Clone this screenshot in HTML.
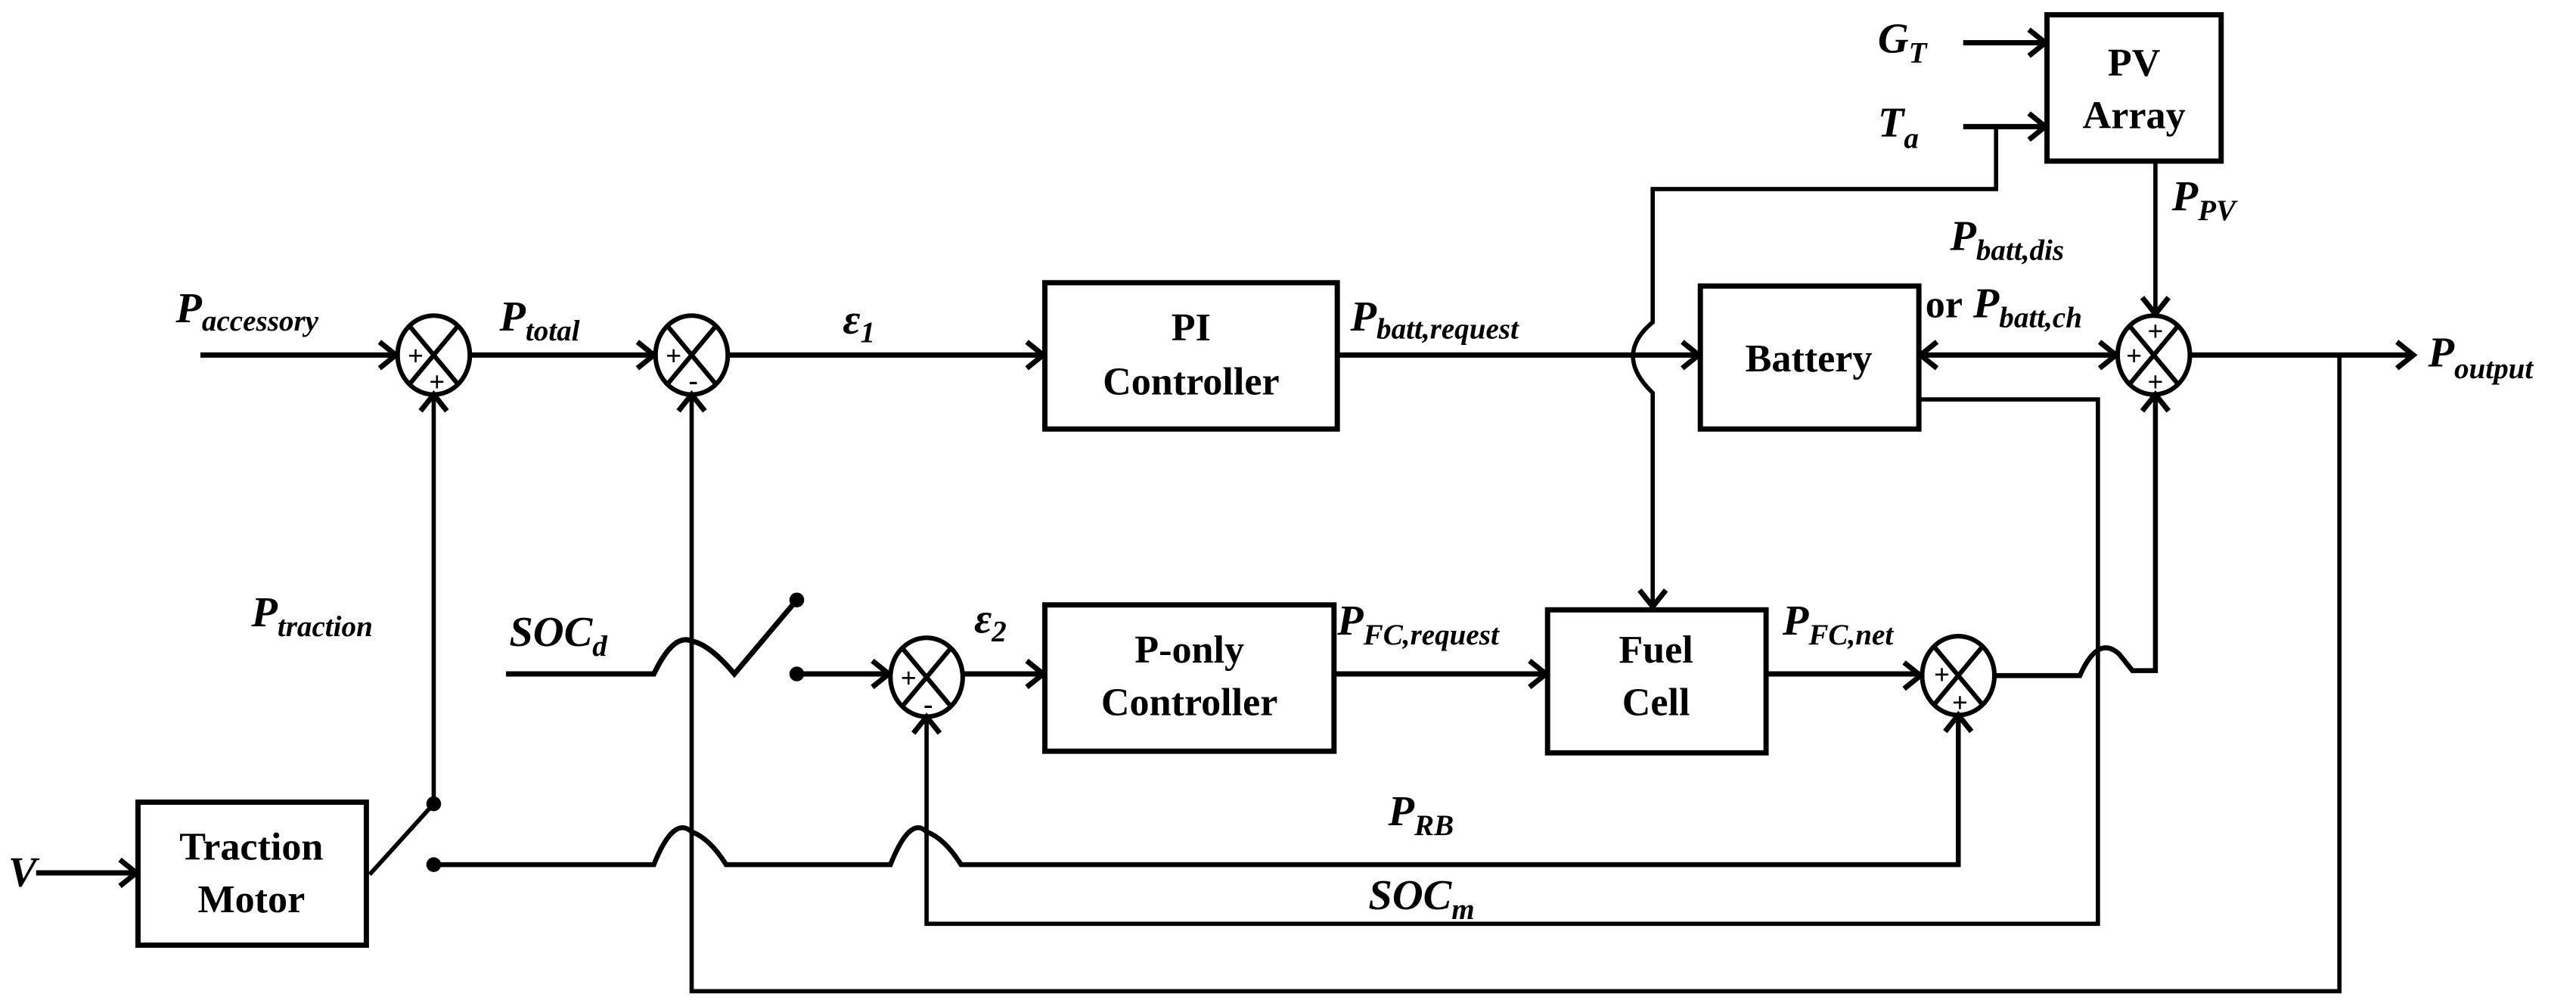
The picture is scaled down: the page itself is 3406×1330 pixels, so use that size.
<!DOCTYPE html>
<html><head><meta charset="utf-8"><style>
html,body{margin:0;padding:0;background:#fff;}
svg{display:block;}
text{font-family:"Liberation Serif",serif;font-weight:bold;fill:#000;}
.m{font-style:italic;font-size:26px;}
.s{font-size:18px;font-style:italic;}
.b{font-size:24px;text-anchor:middle;}
</style></head><body>
<svg width="3406" height="1330" viewBox="0 0 1568 612" preserveAspectRatio="none" xmlns="http://www.w3.org/2000/svg">
<g fill="none" stroke="#000" stroke-width="2.6" stroke-linejoin="miter">
<!-- boxes -->
<rect x="636" y="172" width="178" height="89" stroke-width="3.2"/>
<rect x="1035" y="174" width="133" height="87" stroke-width="3.2"/>
<rect x="1246" y="9" width="106" height="89" stroke-width="3.2"/>
<rect x="636" y="368" width="176" height="89" stroke-width="3.2"/>
<rect x="942" y="371" width="133" height="87" stroke-width="3.2"/>
<rect x="84" y="488" width="139" height="87" stroke-width="3.2"/>
<!-- summing junctions -->
<g stroke-width="2.8">
<ellipse cx="264" cy="216" rx="22" ry="24"/><line x1="249" y1="198" x2="279" y2="234"/><line x1="279" y1="198" x2="249" y2="234"/>
<ellipse cx="421" cy="216" rx="22" ry="24"/><line x1="406" y1="198" x2="436" y2="234"/><line x1="436" y1="198" x2="406" y2="234"/>
<ellipse cx="1311" cy="216" rx="22" ry="24"/><line x1="1296" y1="198" x2="1326" y2="234"/><line x1="1326" y1="198" x2="1296" y2="234"/>
<ellipse cx="564" cy="412" rx="22" ry="24"/><line x1="549" y1="394" x2="579" y2="430"/><line x1="579" y1="394" x2="549" y2="430"/>
<ellipse cx="1192" cy="411" rx="22" ry="24"/><line x1="1177" y1="393" x2="1207" y2="429"/><line x1="1207" y1="393" x2="1177" y2="429"/>
</g>
<!-- lines -->
<path d="M122 216H240" stroke-width="3.2"/>
<path d="M286 216H397" stroke-width="3.2"/>
<path d="M443 216H634" stroke-width="3.2"/>
<path d="M814 216H1033" stroke-width="3.2"/>
<path d="M1170 216H1287" stroke-width="3.2"/>
<path d="M1333 216H1468" stroke-width="3.2"/>
<path d="M1195 26H1244" stroke-width="3.2"/>
<path d="M1195 77H1244" stroke-width="3.2"/>
<path d="M1215 77V115H1006V196Q982 216 1006 239V369"/>
<path d="M1312 98V190"/>
<path d="M1424 216V603H421V242"/>
<path d="M264 489V242"/>
<path d="M1168 243H1277V562H564V438"/>
<path d="M308 410H398Q410 385 421 390Q432 392 447 410L485 365" stroke-width="3.2"/>
<path d="M485 410H540" stroke-width="3.2"/>
<path d="M586 410H634" stroke-width="3.2"/>
<path d="M812 410H940" stroke-width="3.2"/>
<path d="M1075 410H1168" stroke-width="3.2"/>
<path d="M1214 411H1266Q1277 386 1290 398L1298 408H1312V242" stroke-width="3"/>
<path d="M22 531H82" stroke-width="3.2"/>
<path d="M225 532L264 489"/>
<path d="M264 526H398Q410 496 421 506Q432 510 442 526H542Q554 496 564 506Q575 510 585 526H1192V437" stroke-width="3"/>
<!-- arrowheads -->
<g stroke-width="3.2">
<polyline points="231,208 241,216 231,224"/>
<polyline points="388,208 398,216 388,224"/>
<polyline points="625,208 635,216 625,224"/>
<polyline points="1024,208 1034,216 1024,224"/>
<polyline points="1179,208 1169,216 1179,224"/>
<polyline points="1278,208 1288,216 1278,224"/>
<polyline points="1459,208 1469,216 1459,224"/>
<polyline points="1235,18 1245,26 1235,34"/>
<polyline points="1235,69 1245,77 1235,85"/>
<polyline points="1304,181 1312,191 1320,181"/>
<polyline points="1304,250 1312,240 1320,250"/>
<polyline points="256,250 264,240 272,250"/>
<polyline points="413,250 421,240 429,250"/>
<polyline points="998,359 1006,369 1014,359"/>
<polyline points="531,402 541,410 531,418"/>
<polyline points="625,402 635,410 625,418"/>
<polyline points="931,402 941,410 931,418"/>
<polyline points="1159,403 1169,411 1159,419"/>
<polyline points="556,446 564,436 572,446"/>
<polyline points="1184,445 1192,435 1200,445"/>
<polyline points="73,523 83,531 73,539"/>
</g>
</g>
<!-- dots -->
<g fill="#000">
<circle cx="485" cy="365" r="4.5"/><circle cx="485" cy="410" r="4.5"/>
<circle cx="264" cy="489" r="4.5"/><circle cx="264" cy="526" r="4.5"/>
</g>
<!-- sign labels -->
<g font-size="17" text-anchor="middle">
<text x="253" y="222">+</text><text x="266" y="238">+</text>
<text x="410" y="222">+</text><text x="422" y="237">-</text>
<text x="1312" y="207">+</text><text x="1299" y="222">+</text><text x="1312" y="238">+</text>
<text x="553" y="418">+</text><text x="565" y="434">-</text>
<text x="1182" y="416">+</text><text x="1193" y="433">+</text>
</g>
<!-- box labels -->
<text class="b" x="725" y="207">PI</text><text class="b" x="725" y="240">Controller</text>
<text class="b" x="1101" y="226">Battery</text>
<text class="b" x="1299" y="46">PV</text><text class="b" x="1299" y="78">Array</text>
<text class="b" x="724" y="403">P-only</text><text class="b" x="724" y="435">Controller</text>
<text class="b" x="1008" y="403">Fuel</text><text class="b" x="1008" y="435">Cell</text>
<text class="b" x="153" y="523">Traction</text><text class="b" x="153" y="555">Motor</text>
<!-- math labels -->
<text class="m" x="107" y="196">P<tspan class="s" dy="5">accessory</tspan></text>
<text class="m" x="304" y="201">P<tspan class="s" dy="6">total</tspan></text>
<text class="m" x="513" y="203">ε<tspan class="s" dy="5" font-style="normal">1</tspan></text>
<text class="m" x="822" y="201">P<tspan class="s" dy="5">batt,request</tspan></text>
<text class="m" x="1143" y="32">G<tspan class="s" dy="6">T</tspan></text>
<text class="m" x="1143" y="83">T<tspan class="s" dy="7">a</tspan></text>
<text class="m" x="1322" y="128">P<tspan class="s" dy="6">PV</tspan></text>
<text class="m" x="1187" y="152">P<tspan class="s" dy="6">batt,dis</tspan></text>
<text x="1172" y="193" font-size="24">or</text><text class="m" x="1201" y="193">P<tspan class="s" dy="6">batt,ch</tspan></text>
<text class="m" x="1478" y="223">P<tspan class="s" dy="7">output</tspan></text>
<text class="m" x="153" y="381">P<tspan class="s" dy="6">traction</tspan></text>
<text class="m" x="310" y="393">SOC<tspan class="s" dy="6">d</tspan></text>
<text class="m" x="593" y="385">ε<tspan class="s" dy="5" font-style="normal">2</tspan></text>
<text class="m" x="814" y="386">P<tspan class="s" dy="6">FC,request</tspan></text>
<text class="m" x="1085" y="386">P<tspan class="s" dy="6">FC,net</tspan></text>
<text class="m" x="845" y="502">P<tspan class="s" dy="6">RB</tspan></text>
<text class="m" x="833" y="553">SOC<tspan class="s" dy="6">m</tspan></text>
<text class="m" x="5" y="539">V</text>
</svg>
</body></html>
